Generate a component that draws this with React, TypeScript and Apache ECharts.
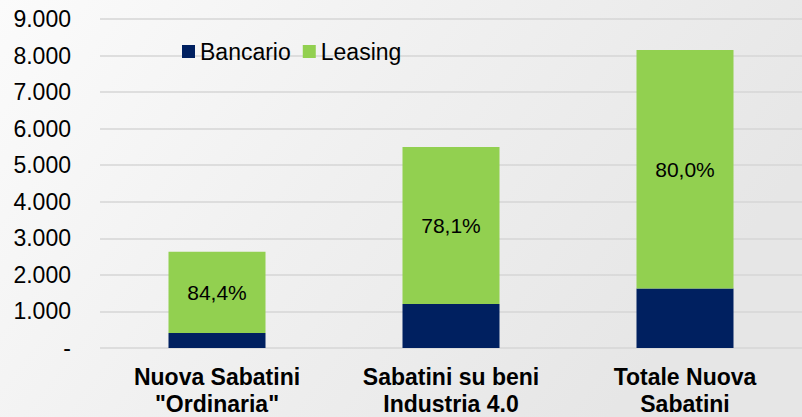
import React, { useEffect, useRef } from "react";
import * as echarts from "echarts";

const categories = ["Nuova Sabatini\n\"Ordinaria\"", "Sabatini su beni\nIndustria 4.0", "Totale Nuova\nSabatini"];
const bancario = [410, 1205, 1630];
const leasing = [2220, 4295, 6520];
const leasingShare = ["84,4%", "78,1%", "80,0%"];
const yTicks = [0, 1000, 2000, 3000, 4000, 5000, 6000, 7000, 8000, 9000];

const FONT = "'Liberation Sans', Arial, sans-serif";

function fmt(v: number): string {
  if (v === 0) return "-";
  return String(v).replace(/\B(?=(\d{3})+(?!\d))/g, ".");
}

export default function App() {
  const ref = useRef<HTMLDivElement>(null);
  useEffect(() => {
    if (!ref.current) return;
    const chart = echarts.init(ref.current, undefined, { renderer: "svg" });
    chart.setOption({
      animation: false,
      backgroundColor: {
        type: "linear",
        x: 0, y: 0, x2: 1, y2: 0.4,
        colorStops: [
          { offset: 0, color: "#fbfbfb" },
          { offset: 0.5, color: "#f0f0f0" },
          { offset: 1, color: "#e6e6e6" },
        ],
      },
      textStyle: { fontFamily: FONT },
      legend: {
        left: 182,
        top: 40,
        padding: 0,
        itemWidth: 13,
        itemHeight: 13,
        itemGap: 12,
        icon: "rect",
        textStyle: { fontSize: 23, color: "#000", fontFamily: FONT },
        data: ["Bancario", "Leasing"],
      },
      grid: { left: 100, right: -10, top: 19, bottom: 66 },
      xAxis: {
        type: "category",
        data: categories,
        axisLine: { show: false },
        axisTick: { show: false },
        axisLabel: {
          fontSize: 23,
          fontWeight: "bold",
          fontFamily: FONT,
          color: "#000",
          margin: 15,
          lineHeight: 27,
          interval: 0,
        },
      },
      yAxis: {
        type: "value",
        min: 0,
        max: yTicks[yTicks.length - 1],
        interval: yTicks[1] - yTicks[0],
        axisLine: { show: false },
        axisTick: { show: false },
        axisLabel: {
          fontSize: 23,
          fontFamily: FONT,
          color: "#000",
          margin: 29,
          formatter: (v: number) => fmt(v),
        },
        splitLine: { lineStyle: { color: "#d6d6d6", width: 1.5 } },
      },
      series: [
        {
          name: "Bancario",
          type: "bar",
          stack: "t",
          barWidth: 97,
          data: bancario,
          itemStyle: { color: "#002060" },
        },
        {
          name: "Leasing",
          type: "bar",
          stack: "t",
          barWidth: 97,
          data: leasing,
          itemStyle: { color: "#92d050" },
          label: {
            show: true,
            position: "inside",
            fontSize: 21,
            fontFamily: FONT,
            color: "#000",
            formatter: (p: any) => leasingShare[p.dataIndex],
          },
        },
      ],
    });
    return () => chart.dispose();
  }, []);
  return (
    <div
      ref={ref}
      style={{ position: "fixed", left: 0, top: 0, width: 802, height: 417 }}
    />
  );
}
